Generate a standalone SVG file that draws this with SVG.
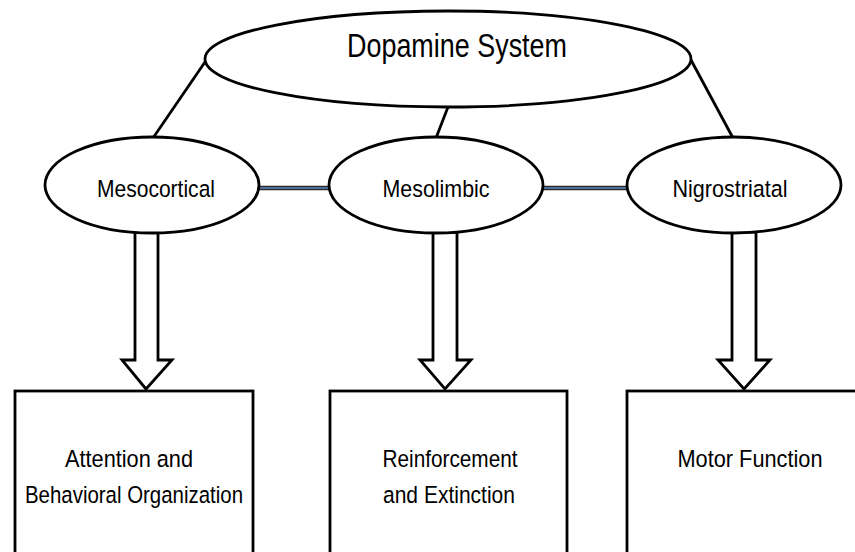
<svg xmlns="http://www.w3.org/2000/svg" width="855" height="552" viewBox="0 0 855 552">
<style>
.shape{fill:#fff;stroke:#000;stroke-width:2.8}
.link{stroke:#000;stroke-width:2.8;fill:none}
.dbl-out{stroke:#2a2a2a;stroke-width:4.5}
.dbl-in{stroke:#5b84c0;stroke-width:1.6}
.arrow{fill:#fff;stroke:#000;stroke-width:2.8;stroke-linejoin:miter}
text{font-family:"Liberation Sans",Arial,sans-serif;fill:#000;text-anchor:middle}
.lbl{font-size:24.5px}
.big{font-size:32.5px}
</style>
<rect width="855" height="552" fill="#fff"/>
<g id="connectors">
<line class="link" x1="205" y1="62" x2="153" y2="138"/>
<line class="link" x1="448" y1="107" x2="436" y2="138"/>
<line class="link" x1="691" y1="60" x2="733" y2="138"/>
<line class="dbl-out" x1="259" y1="188" x2="330" y2="188"/>
<line class="dbl-in" x1="259" y1="188" x2="330" y2="188"/>
<line class="dbl-out" x1="542" y1="188" x2="628" y2="188"/>
<line class="dbl-in" x1="542" y1="188" x2="628" y2="188"/>
<polygon class="arrow" points="135,232 158,232 158,360 172,360 146,389 122,360 135,360"/>
<polygon class="arrow" points="433,232 457,232 457,360 471,360 445,389 420,360 433,360"/>
<polygon class="arrow" points="732,232 756,232 756,360 770,360 744,389 718,360 732,360"/>
</g>
<g id="dopamine-system">
<ellipse class="shape" cx="448" cy="59" rx="243" ry="48"/>
<text class="big" x="457" y="57" textLength="220" lengthAdjust="spacingAndGlyphs">Dopamine System</text>
</g>
<g id="mesocortical">
<ellipse class="shape" cx="152" cy="185" rx="107" ry="48"/>
<text class="lbl" x="156" y="197" textLength="118" lengthAdjust="spacingAndGlyphs">Mesocortical</text>
</g>
<g id="mesolimbic">
<ellipse class="shape" cx="436" cy="185" rx="107" ry="48"/>
<text class="lbl" x="436" y="197" textLength="107" lengthAdjust="spacingAndGlyphs">Mesolimbic</text>
</g>
<g id="nigrostriatal">
<ellipse class="shape" cx="734" cy="185" rx="107" ry="48"/>
<text class="lbl" x="730" y="197" textLength="115" lengthAdjust="spacingAndGlyphs">Nigrostriatal</text>
</g>
<g id="attention">
<rect class="shape" x="15" y="391" width="238" height="200"/>
<text class="lbl" x="129" y="467" textLength="128" lengthAdjust="spacingAndGlyphs">Attention and</text>
<text class="lbl" x="134" y="503" textLength="218" lengthAdjust="spacingAndGlyphs">Behavioral Organization</text>
</g>
<g id="reinforcement">
<rect class="shape" x="330" y="391" width="237" height="200"/>
<text class="lbl" x="450" y="467" textLength="135" lengthAdjust="spacingAndGlyphs">Reinforcement</text>
<text class="lbl" x="449" y="503" textLength="132" lengthAdjust="spacingAndGlyphs">and Extinction</text>
</g>
<g id="motor">
<rect class="shape" x="627" y="391" width="260" height="200"/>
<text class="lbl" x="750" y="467" textLength="145" lengthAdjust="spacingAndGlyphs">Motor Function</text>
</g>
</svg>
